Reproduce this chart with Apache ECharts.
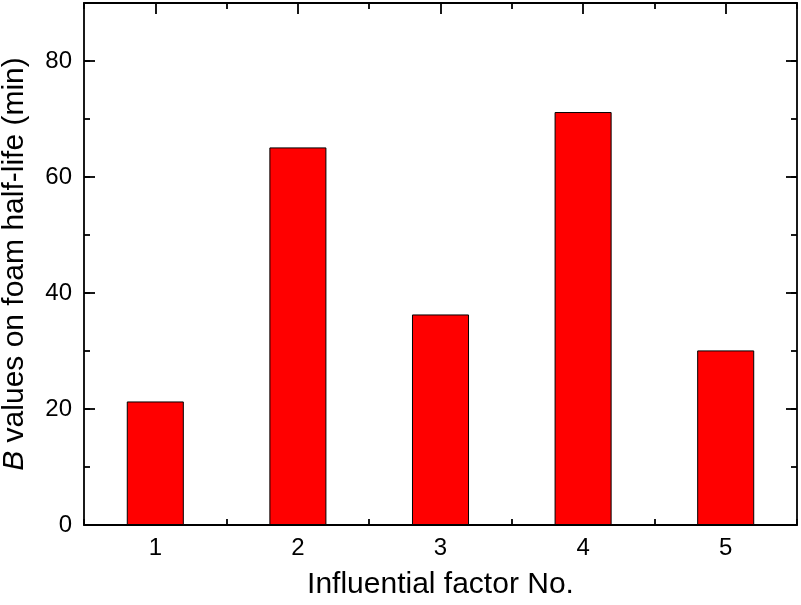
<!DOCTYPE html>
<html><head><meta charset="utf-8">
<script src="https://cdn.jsdelivr.net/npm/echarts@6/dist/echarts.min.js"></script>
<style>html,body{margin:0;padding:0;background:#fff}#c{width:801px;height:605px}</style>
</head><body><div id="c"></div>
<script>
const categories = ['1', '2', '3', '4', '5'];
const bValues = [21.3, 65.1, 36.3, 71.2, 30.1];
const yMin = 0, yMax = 90, yMajor = 20, yMinor = 10;

const font = 'Arial, "Liberation Sans", sans-serif';
const lineStyle = {color: '#000', width: 1.8};
const chart = echarts.init(document.getElementById('c'));
const gridRect = {left: 84, right: 4, top: 3, bottom: 80, containLabel: false, outerBoundsMode: 'none'};

function catAxis(gi, pos, major, opts) {
  return Object.assign({
    type: 'category', gridIndex: gi, data: categories, position: pos, boundaryGap: true,
    axisLine: {show: major, onZero: false, lineStyle: lineStyle},
    axisLabel: {show: false},
    axisTick: {show: true, inside: true, alignWithLabel: major, length: major ? 11 : 6, lineStyle: lineStyle},
    splitLine: {show: false}
  }, opts || {});
}
function valAxis(gi, pos, major, opts) {
  return Object.assign({
    type: 'value', gridIndex: gi, position: pos, min: yMin, max: yMax, interval: major ? yMajor : yMinor,
    axisLine: {show: major, onZero: false, lineStyle: lineStyle},
    axisTick: {show: true, inside: true, length: major ? 11 : 6, lineStyle: lineStyle},
    axisLabel: {show: false},
    splitLine: {show: false}
  }, opts || {});
}

chart.setOption({
  animation: false,
  backgroundColor: '#fff',
  grid: [Object.assign({}, gridRect), Object.assign({}, gridRect)],
  xAxis: [
    catAxis(0, 'bottom', true, {
      axisLabel: {show: true, color: '#000', fontSize: 24, fontFamily: font, margin: 11},
      name: 'Influential factor No.', nameLocation: 'middle', nameGap: 45,
      nameTextStyle: {color: '#000', fontSize: 30, fontFamily: font}
    }),
    catAxis(0, 'top', true),
    catAxis(1, 'bottom', false),
    catAxis(1, 'top', false)
  ],
  yAxis: [
    valAxis(0, 'left', true, {
      axisLabel: {show: true, color: '#000', fontSize: 24, fontFamily: font, margin: 12,
        formatter: v => (v % yMajor === 0 && v < yMax ? String(v) : '')},
      name: '{i|B} values on foam half-life (min)', nameLocation: 'middle', nameGap: 54,
      nameTextStyle: {color: '#000', fontSize: 30, fontFamily: font,
        rich: {i: {fontStyle: 'italic', fontSize: 30, fontFamily: font, color: '#000'}}}
    }),
    valAxis(0, 'right', true),
    valAxis(1, 'left', false),
    valAxis(1, 'right', false)
  ],
  series: [{
    type: 'bar', data: bValues, xAxisIndex: 0, yAxisIndex: 0, barWidth: '40%',
    itemStyle: {color: '#ff0000', borderColor: '#000', borderWidth: 1}
  }]
});
</script></body></html>
